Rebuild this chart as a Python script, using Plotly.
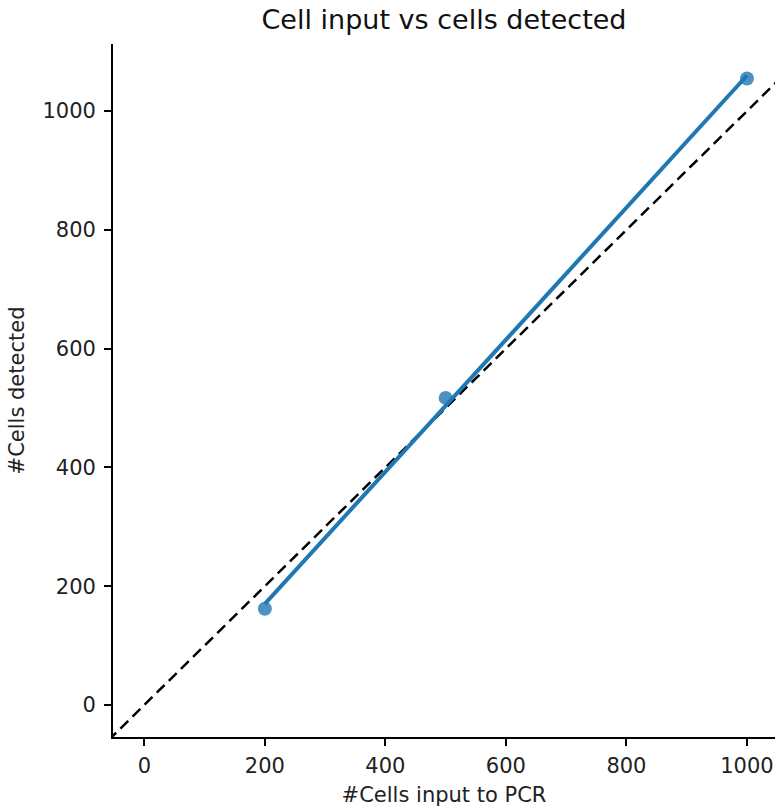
import plotly.graph_objects as go
import numpy as np

# Cells loaded into PCR vs cells recovered
cells_input = [200, 500, 1000]
cells_detected = [162, 517, 1055]

x_ticks = [0, 200, 400, 600, 800, 1000]
y_ticks = [0, 200, 400, 600, 800, 1000]

# least-squares fit over the observed range
slope, intercept = np.polyfit(cells_input, cells_detected, 1)
fit_x = np.linspace(min(cells_input), max(cells_input), 50)
fit_y = slope * fit_x + intercept

diag = [-100, 1200]

blue = "#1f77b4"
font_family = "DejaVu Sans"

fig = go.Figure()
fig.add_trace(go.Scatter(
    x=diag, y=diag, mode="lines",
    line=dict(color="black", width=2.5, dash="11px,6px"),
    hoverinfo="skip", showlegend=False,
))
fig.add_trace(go.Scatter(
    x=fit_x, y=fit_y, mode="lines",
    line=dict(color=blue, width=4),
    showlegend=False,
))
fig.add_trace(go.Scatter(
    x=cells_input, y=cells_detected, mode="markers",
    marker=dict(color=blue, size=14, opacity=0.8, line=dict(width=0)),
    showlegend=False,
))

axis_common = dict(
    showgrid=False, zeroline=False,
    showline=True, linecolor="black", linewidth=1.8,
    ticks="outside", ticklen=7, tickwidth=1.8, tickcolor="black",
    tickfont=dict(family=font_family, size=21, color="#222"),
    mirror=False,
)

fig.update_layout(
    width=775, height=809,
    margin=dict(l=113, r=0, t=44, b=72),
    paper_bgcolor="white", plot_bgcolor="white",
    title=dict(
        text="Cell input vs cells detected",
        font=dict(family=font_family, size=27, color="#111"),
        x=(113 + 775) / 2 / 775, xanchor="center",
        y=1 - 20 / 809, yanchor="middle",
    ),
    xaxis=dict(
        range=[-52, 1046.5], tickvals=x_ticks,
        ticklabelstandoff=2,
        title=dict(text="#Cells input to PCR", standoff=10,
                   font=dict(family=font_family, size=21, color="#222")),
        **axis_common,
    ),
    yaxis=dict(
        range=[-54, 1113], tickvals=y_ticks,
        ticklabelstandoff=4,
        title=dict(text="#Cells detected", standoff=12,
                   font=dict(family=font_family, size=21, color="#222")),
        **axis_common,
    ),
)

fig.write_html("out.html")
